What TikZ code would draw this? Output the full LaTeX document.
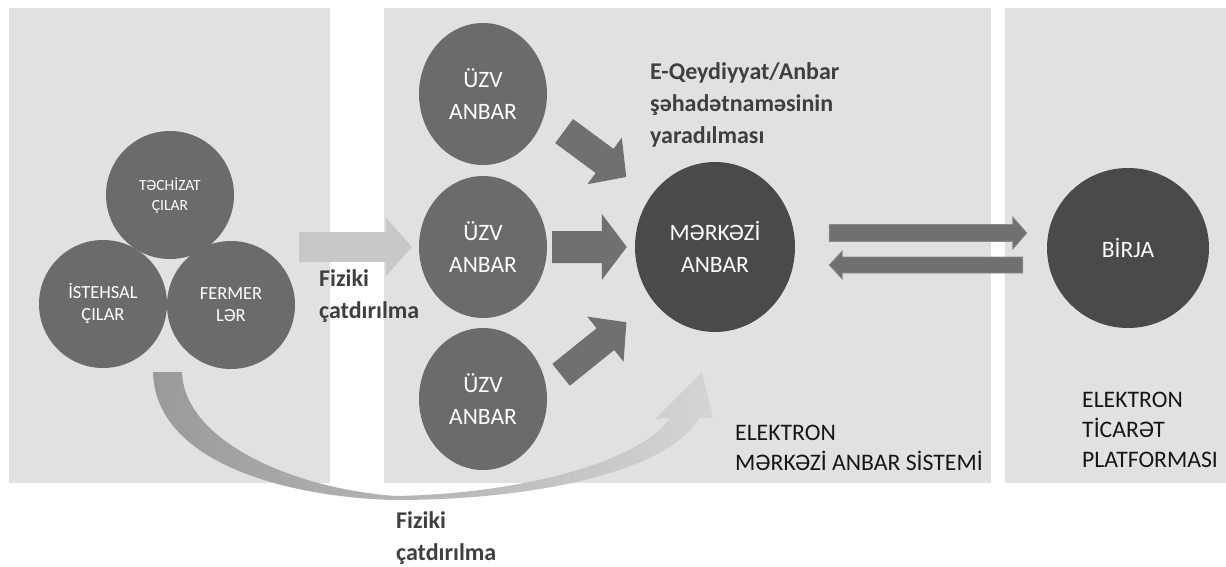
\documentclass[tikz,border=0pt]{standalone}
\usepackage{fontspec}
\setmainfont{Carlito}
\usetikzlibrary{calc,shapes.geometric}
\definecolor{panelgray}{HTML}{E1E1E1}
\definecolor{discgray}{HTML}{6B6B6B}
\definecolor{darkgray}{HTML}{4A4A4A}
\definecolor{arrowgray}{HTML}{707070}
\definecolor{arrowedge}{HTML}{8C8C8C}
\definecolor{lightarrow}{HTML}{C8C8C8}
\definecolor{curvedark}{HTML}{9A9A9A}
\definecolor{curvelight}{HTML}{D4D4D4}
\definecolor{labelgray}{HTML}{3F3F3F}
\definecolor{textblack}{HTML}{161616}
% block arrow: style, from, to, shorten start, shorten end, half shaft, half head, head length
\newcommand{\blockarr}[8]{%
	\coordinate (ba-s) at ($(#2)!#4!(#3)$);
	\coordinate (ba-e) at ($(#3)!#5!(#2)$);
	\coordinate (ba-n) at ($(ba-e)!#8!(ba-s)$);
	\fill[#1] ($(ba-s)!#6!90:(ba-e)$) -- ($(ba-n)!#6!-90:(ba-s)$) -- ($(ba-n)!#7!-90:(ba-s)$) -- (ba-e) -- ($(ba-n)!#7!90:(ba-s)$) -- ($(ba-n)!#6!90:(ba-s)$) -- ($(ba-s)!#6!-90:(ba-e)$) -- cycle;}

\begin{document}
\begin{tikzpicture}[x=1pt, y=-1pt,
		leftdisc/.style={circle, fill=discgray, text=white, align=center, inner sep=0pt, minimum size=128pt, font=\fontsize{18.5}{22}\selectfont},
		uzvdisc/.style={ellipse, fill=discgray, text=white, align=center, inner sep=0pt, minimum width=128pt, minimum height=142pt, font=\fontsize{23.5}{32}\selectfont},
		darkdisc/.style={ellipse, fill=darkgray, text=white, align=center, inner sep=0pt, font=\fontsize{23.5}{32}\selectfont},
		boldlabel/.style={anchor=north west, align=left, inner sep=0pt, text=labelgray, font=\bfseries\fontsize{24}{32}\selectfont},
		caplabel/.style={anchor=north west, align=left, inner sep=0pt, text=textblack, font=\fontsize{23.7}{30}\selectfont},
		midarrow/.style={fill=arrowgray},
		pairarrow/.style={fill=arrowgray, draw=arrowedge, line width=0.8pt}]
			%%%%% START %%%%%
			\useasboundingbox (0,0) rectangle (1226,567);
			\fill[white] (0,0) rectangle (1226,567);
			
			\fill[panelgray] (9,8) rectangle (330,483);
			\fill[panelgray] (384,8) rectangle (991,483);
			\fill[panelgray] (1005,8) rectangle (1226,483);
			
			% curved delivery arrow
			\shade[left color=curvedark, right color=curvelight] (153,372) -- (182,372)
				.. controls (184,440) and (290,488) .. (395,496)
				.. controls (520,494) and (640,462) .. (670,418)
				-- (655,419) -- (702,372) -- (713,418) -- (699,418)
				.. controls (670,470) and (540,500) .. (395,500)
				.. controls (280,497) and (155,460) .. (153,372) -- cycle;
			
			\node[leftdisc, font=\fontsize{15.5}{20}\selectfont] (tech) at (170,195) {TƏCHİZAT\\ÇILAR};
			\node[leftdisc] (ist) at (103,304) {İSTEHSAL\\ÇILAR};
			\node[leftdisc] (ferm) at (231,305) {FERMER\\LƏR};
			
			\node[uzvdisc] (uzv1) at (483,94) {ÜZV\\ANBAR};
			\node[uzvdisc] (uzv2) at (483,247) {ÜZV\\ANBAR};
			\node[uzvdisc] (uzv3) at (483,399) {ÜZV\\ANBAR};
			
			\node[darkdisc, minimum width=160pt, minimum height=170pt] (merk) at (715,247) {MƏRKƏZİ\\ANBAR};
			\node[darkdisc, minimum width=162pt, minimum height=160pt] (birja) at (1128,248) {BİRJA};
			
			\coordinate (inflow) at (299,247);
			\blockarr{fill=lightarrow}{inflow}{uzv2.west}{0pt}{7pt}{15pt}{29.5pt}{26pt}
			
			\blockarr{midarrow}{uzv1.-20}{merk.141}{25pt}{31pt}{15pt}{29pt}{27pt}
			\blockarr{midarrow}{uzv2.east}{merk.west}{5pt}{8pt}{16pt}{33pt}{25pt}
			\blockarr{midarrow}{uzv3.11}{merk.-139}{19pt}{34pt}{14pt}{29pt}{27pt}
			
			\coordinate (tr1) at ($(merk.east)+(34,-14)$);
			\coordinate (tr2) at ($(birja.west)+(-20,-15)$);
			\coordinate (br1) at ($(birja.west)+(-24,17)$);
			\coordinate (br2) at ($(merk.east)+(34,18)$);
			\blockarr{pairarrow}{tr1}{tr2}{0pt}{0pt}{8.5pt}{16pt}{14pt}
			\blockarr{pairarrow}{br1}{br2}{0pt}{0pt}{8pt}{14pt}{13pt}
			
			\node[boldlabel] (fiz1) at (319,269) {Fiziki\\çatdırılma};
			\node[boldlabel] (eqey) at (650,62) {E-Qeydiyyat/Anbar\\şəhadətnaməsinin\\yaradılması};
			\node[boldlabel] (fiz2) at (396,511) {Fiziki\\çatdırılma};
			
			\node[caplabel] (ems) at (735,424.7) {ELEKTRON\\MƏRKƏZİ ANBAR SİSTEMİ};
			\node[caplabel] (etp) at (1082,391.7) {ELEKTRON\\TİCARƏT\\PLATFORMASI};
			%%%%% END %%%%%
\end{tikzpicture}
\end{document}
